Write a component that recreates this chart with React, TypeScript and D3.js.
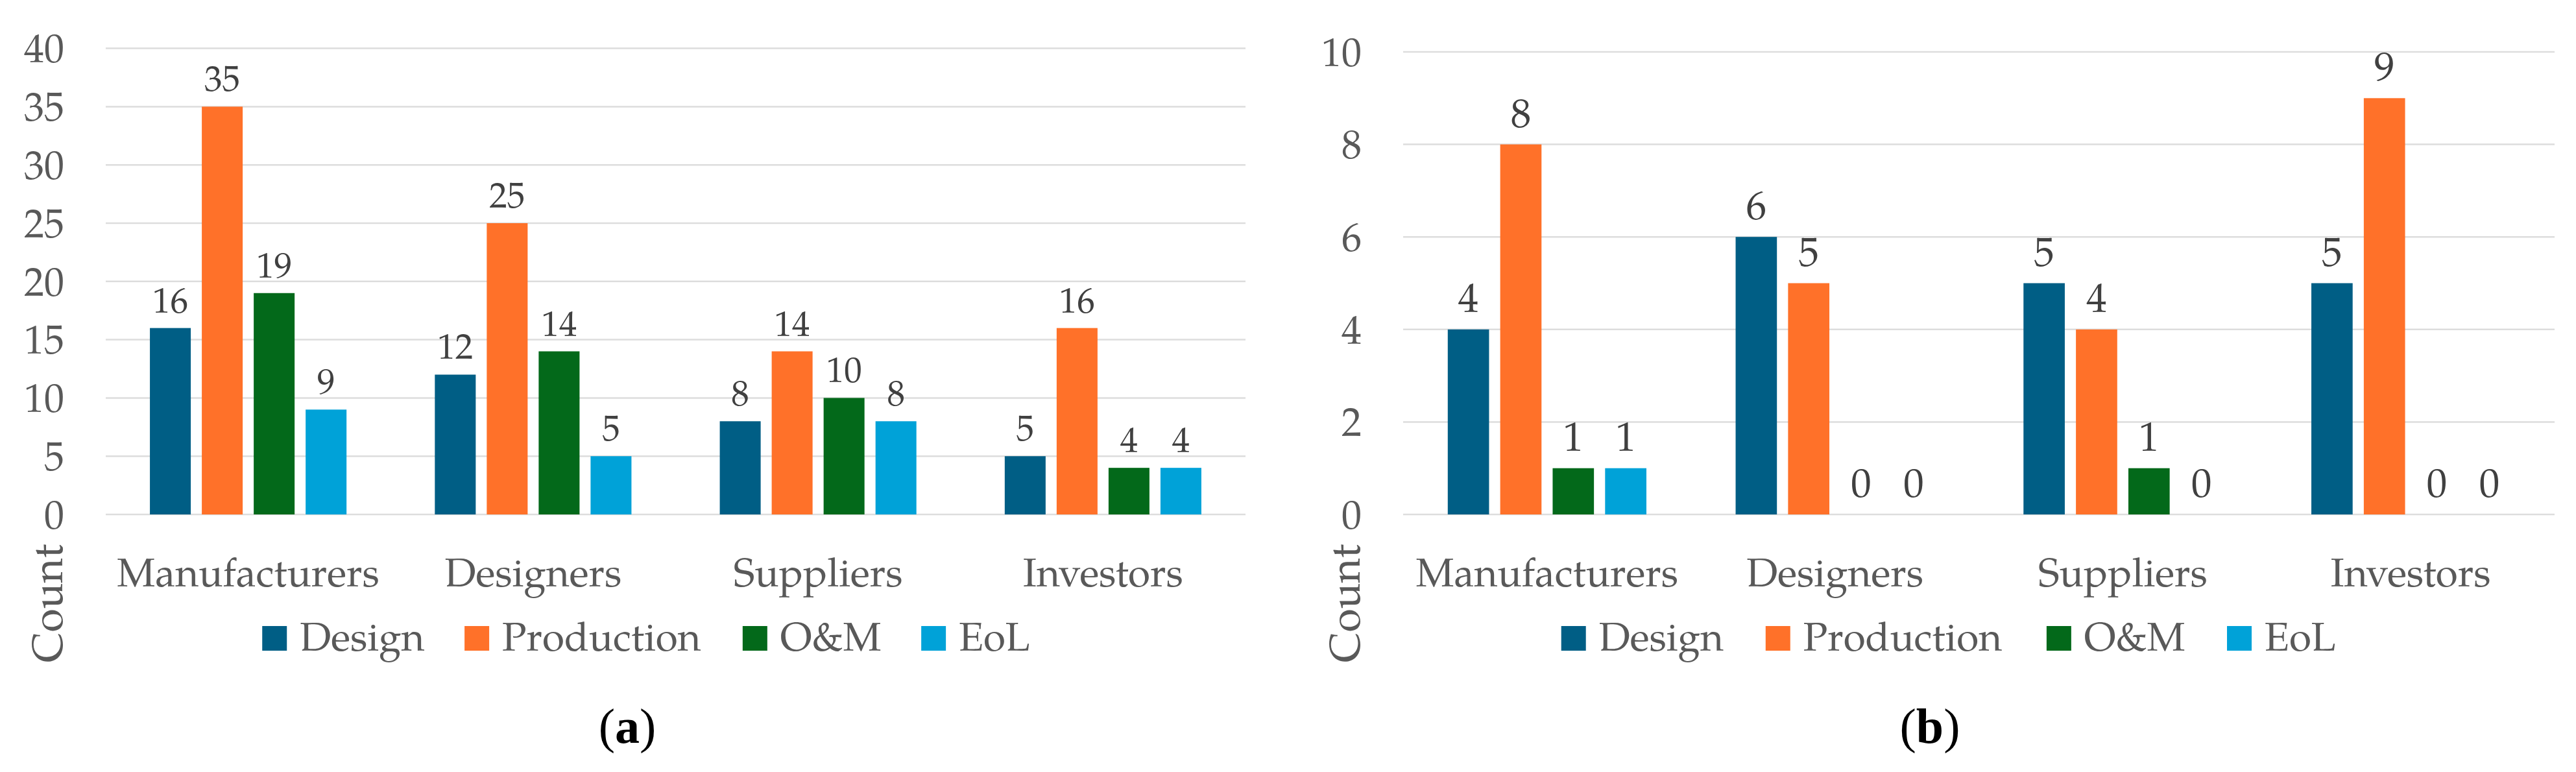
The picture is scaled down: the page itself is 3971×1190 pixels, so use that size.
import React from 'react';
import * as d3 from 'd3';

const categories = ['Manufacturers', 'Designers', 'Suppliers', 'Investors'];
const seriesNames = ['Design', 'Production', 'O&M', 'EoL'];
const seriesColors = ['#005E85', '#FF7129', '#03691A', '#00A2D8'];

const designA = [16, 12, 8, 5];
const productionA = [35, 25, 14, 16];
const omA = [19, 14, 10, 4];
const eolA = [9, 5, 8, 4];
const ticksA = [0, 5, 10, 15, 20, 25, 30, 35, 40];

const designB = [4, 6, 5, 5];
const productionB = [8, 5, 4, 9];
const omB = [1, 0, 1, 0];
const eolB = [1, 0, 0, 0];
const ticksB = [0, 2, 4, 6, 8, 10];

const FONT = "'P052','TeX Gyre Pagella','URW Palladio L','Palatino Linotype','Book Antiqua',Palatino,'Liberation Serif',serif";
const GRAY = '#595959';
const W = 3971;
const H = 1190;

type PanelProps = {
  left: number;
  right: number;
  yTopPx: number;
  yMax: number;
  ticks: number[];
  series: number[][];
  labelSize: number;
  labelGap: number;
  tag: string;
  tagX: number;
};

const legendFracs = [0.1373, 0.3148, 0.5588, 0.7155];

function Panel({ left, right, yTopPx, yMax, ticks, series, labelSize, labelGap, tag, tagX }: PanelProps) {
  const y0 = 793;
  const y = d3.scaleLinear().domain([0, yMax]).range([y0, yTopPx]);
  const x0 = d3.scaleBand<string>().domain(categories).range([left, right]).paddingInner(0).paddingOuter(0);
  const groupW = x0.bandwidth() * 0.69;
  const x1 = d3.scaleBand<string>().domain(seriesNames).range([0, groupW]).paddingInner(0.2125).paddingOuter(0);
  const plotW = right - left;
  return (
    <g>
      {ticks.map((t) => (
        <g key={'t' + t}>
          <line x1={left} x2={right} y1={y(t)} y2={y(t)} stroke="#DDDDDD" strokeWidth={2.5} />
          <text x={left - 64} y={y(t)} dy="0.35em" textAnchor="end" fontFamily={FONT} fontSize={62} fill={GRAY}>
            {t}
          </text>
        </g>
      ))}
      {categories.map((c, ci) => {
        const gx = (x0(c) as number) + x0.bandwidth() / 2 - groupW / 2;
        return (
          <g key={c}>
            {seriesNames.map((s, si) => {
              const v = series[si][ci];
              const bx = gx + (x1(s) as number);
              return (
                <g key={s}>
                  {v > 0 && (
                    <rect x={bx} y={y(v)} width={x1.bandwidth()} height={y0 - y(v)} fill={seriesColors[si]} />
                  )}
                  <text x={bx + x1.bandwidth() / 2} y={y(v) - labelGap} textAnchor="middle" fontFamily={FONT} fontSize={labelSize} fill="#404040">
                    {v}
                  </text>
                </g>
              );
            })}
            <text x={(x0(c) as number) + x0.bandwidth() / 2} y={904} textAnchor="middle" fontFamily={FONT} fontSize={62} fill={GRAY}>
              {c}
            </text>
          </g>
        );
      })}
      {seriesNames.map((s, si) => {
        const lx = left + legendFracs[si] * plotW;
        return (
          <g key={'l' + s}>
            <rect x={lx} y={965} width={38} height={38} fill={seriesColors[si]} />
            <text x={lx + 58} y={1003} fontFamily={FONT} fontSize={62} fill={GRAY}>
              {s}
            </text>
          </g>
        );
      })}
      <text transform={`translate(${left - 67},930) rotate(-90)`} textAnchor="middle" fontFamily={FONT} fontSize={66} fill={GRAY}>
        Count
      </text>
      <text x={tagX} y={1145} textAnchor="middle" fontFamily="'Liberation Serif','Times New Roman',serif" fontSize={76} fill="#000">
        <tspan>(</tspan>
        <tspan fontWeight="bold">{tag}</tspan>
        <tspan>)</tspan>
      </text>
    </g>
  );
}

export default function App() {
  return (
    <div style={{ position: 'absolute', left: 0, top: 0 }}>
      <svg width={W} height={H} viewBox={`0 0 ${W} ${H}`} style={{ display: 'block', background: '#fff' }}>
        <rect x={0} y={0} width={W} height={H} fill="#fff" />
        <Panel left={163} right={1920} yTopPx={74.6} yMax={40} ticks={ticksA} series={[designA, productionA, omA, eolA]} labelSize={55} labelGap={24} tag="a" tagX={967} />
        <Panel left={2163} right={3938} yTopPx={80} yMax={10} ticks={ticksB} series={[designB, productionB, omB, eolB]} labelSize={63} labelGap={27} tag="b" tagX={2975} />
      </svg>
    </div>
  );
}
